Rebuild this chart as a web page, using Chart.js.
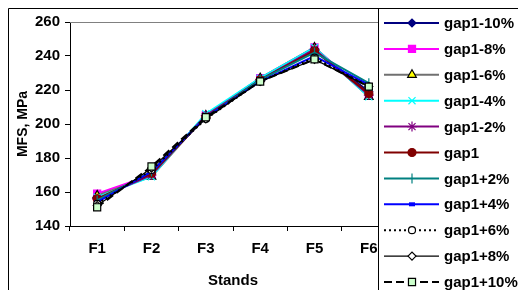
<!DOCTYPE html>
<html>
<head>
<meta charset="utf-8">
<script src="https://cdn.jsdelivr.net/npm/chart.js@4.4.1/dist/chart.umd.min.js"></script>
<style>
  html, body { margin: 0; padding: 0; background: #fff; }
  #wrap { width: 518px; height: 290px; }
</style>
</head>
<body>
<div id="wrap"><canvas id="mfsChart" width="518" height="290"></canvas></div>
<script>
// Stands on x axis
const stands = ['F1', 'F2', 'F3', 'F4', 'F5', 'F6']
const yTicks = [140, 160, 180, 200, 220, 240, 260]

// MFS values (MPa) per gap setting
const gapMinus10 = [157, 171, 205, 226, 244, 219]
const gapMinus8 = [159, 170, 205, 227, 245, 217]
const gapMinus6 = [158, 169, 205, 227, 245, 216]
const gapMinus4 = [157, 169, 206, 227, 245, 216]
const gapMinus2 = [156, 170, 205, 226, 244, 217]
const gapBase = [156, 171, 204, 226, 243, 218]
const gapPlus2 = [155, 172, 204, 226, 242, 224]
const gapPlus4 = [154, 172, 204, 225, 240, 223]
const gapPlus6 = [153, 173, 203, 225, 239, 222]
const gapPlus8 = [152, 174, 203, 225, 238, 222]
const gapPlus10 = [151, 175, 204, 225, 238, 222]

const FONT = 'Liberation Sans, Arial, sans-serif'

const series = [
  { label: 'gap1-10%', data: gapMinus10, color: '#000080', style: 'rectRot', fill: '#000080', r: 4, rot: 0 },
  { label: 'gap1-8%', data: gapMinus8, color: '#FF00FF', style: 'rect', fill: '#FF00FF', r: 5, rot: 0 },
  { label: 'gap1-6%', data: gapMinus6, color: '#707070', style: 'triangle', fill: '#FFFF00', r: 5, rot: 0, pointBorder: '#000' },
  { label: 'gap1-4%', data: gapMinus4, color: '#00FFFF', style: 'crossRot', fill: '#00FFFF', r: 5, rot: 0 },
  { label: 'gap1-2%', data: gapMinus2, color: '#800080', style: 'star', fill: '#800080', r: 5, rot: 0 },
  { label: 'gap1', data: gapBase, color: '#800000', style: 'circle', fill: '#800000', r: 4, rot: 0 },
  { label: 'gap1+2%', data: gapPlus2, color: '#008080', style: 'line', fill: '#008080', r: 5, rot: 90 },
  { label: 'gap1+4%', data: gapPlus4, color: '#0000FF', style: 'line', fill: '#0000FF', r: 3, rot: 0, pw: 4 },
  { label: 'gap1+6%', data: gapPlus6, color: '#000000', style: 'circle', fill: '#FFFFFF', r: 3.5, rot: 0, dash: [2, 3] },
  { label: 'gap1+8%', data: gapPlus8, color: '#000000', style: 'rectRot', fill: '#FFFFFF', r: 4, rot: 0, thin: true },
  { label: 'gap1+10%', data: gapPlus10, color: '#000000', style: 'rect', fill: '#CCFFCC', r: 5, rot: 0, dash: [8, 4] },
]

const n = series.length

const datasets = series.map((s, i) => ({
  label: s.label,
  data: s.data,
  borderColor: s.color,
  backgroundColor: s.fill,
  borderWidth: s.thin ? 1.2 : 2,
  borderDash: s.dash || [],
  pointStyle: s.style,
  pointRadius: s.r,
  pointRotation: s.rot,
  pointBackgroundColor: s.fill,
  pointBorderColor: s.pointBorder || s.color,
  pointBorderWidth: s.pw || 1.2,
  tension: 0,
  order: n - i,
}))

// frame, plot border and the right-hand legend box
const frameAndLegend = {
  id: 'frameAndLegend',
  afterDraw(chart) {
    const { ctx, chartArea } = chart
    ctx.save()
    // grey top border of plot area
    ctx.strokeStyle = '#808080'
    ctx.lineWidth = 1
    ctx.beginPath()
    ctx.moveTo(chartArea.left, chartArea.top + 0.5)
    ctx.lineTo(378, chartArea.top + 0.5)
    ctx.stroke()

    // legend box (covers the right end of the plot)
    ctx.fillStyle = '#fff'
    ctx.fillRect(378, 8, 140, 282)
    ctx.strokeStyle = '#000'
    ctx.beginPath()
    ctx.moveTo(378.5, 8.5)
    ctx.lineTo(378.5, 290)
    ctx.stroke()

    // outer frame
    ctx.beginPath()
    ctx.moveTo(8.5, 290)
    ctx.lineTo(8.5, 8.5)
    ctx.lineTo(518, 8.5)
    ctx.stroke()

    series.forEach((s, i) => {
      const y = 23 + i * 25.9
      ctx.strokeStyle = s.color
      ctx.lineWidth = s.thin ? 1.2 : 2
      ctx.setLineDash(s.dash || [])
      ctx.beginPath()
      ctx.moveTo(384, y)
      ctx.lineTo(439, y)
      ctx.stroke()
      ctx.setLineDash([])

      ctx.fillStyle = s.fill
      ctx.strokeStyle = s.pointBorder || s.color
      ctx.lineWidth = s.pw || 1.2
      Chart.helpers.drawPoint(ctx, { pointStyle: s.style, radius: s.r, rotation: s.rot, borderWidth: s.pw || 1.2 }, 412, y)

      ctx.fillStyle = '#000'
      ctx.font = 'bold 15px ' + FONT
      ctx.textAlign = 'left'
      ctx.textBaseline = 'middle'
      ctx.fillText(s.label, 444, y + 1)
    })
    ctx.restore()
  },
}

new Chart(document.getElementById('mfsChart').getContext('2d'), {
  type: 'line',
  data: {
    labels: stands,
    datasets: datasets,
  },
  options: {
    responsive: false,
    animation: false,
    layout: {
      padding: { left: 9, right: 122, top: 22, bottom: 0 },
    },
    plugins: {
      legend: { display: false },
      tooltip: { enabled: false },
    },
    scales: {
      x: {
        offset: true,
        grid: {
          offset: true,
          drawOnChartArea: false,
          drawTicks: true,
          tickLength: 5,
          color: '#000',
        },
        border: { color: '#000', width: 1 },
        ticks: {
          color: '#000',
          padding: 9,
          font: { family: FONT, size: 15, weight: 'bold' },
        },
        title: {
          display: true,
          text: 'Stands',
          color: '#000',
          padding: { top: 5, bottom: 0 },
          font: { family: FONT, size: 15, weight: 'bold' },
        },
        afterFit(scale) {
          scale.height = 64
        },
      },
      y: {
        min: 140,
        max: 260,
        afterBuildTicks(scale) {
          scale.ticks = yTicks.map((v) => ({ value: v }))
        },
        grid: {
          drawOnChartArea: false,
          drawTicks: true,
          tickLength: 5,
          color: '#000',
        },
        border: { color: '#000', width: 1 },
        ticks: {
          color: '#000',
          padding: 5,
          font: { family: FONT, size: 15, weight: 'bold' },
        },
        title: {
          display: true,
          text: 'MFS, MPa',
          color: '#000',
          padding: { top: 6, bottom: 0 },
          font: { family: FONT, size: 14, weight: 'bold' },
        },
        afterFit(scale) {
          scale.width = 61
        },
      },
    },
  },
  plugins: [frameAndLegend],
})
</script>
</body>
</html>
